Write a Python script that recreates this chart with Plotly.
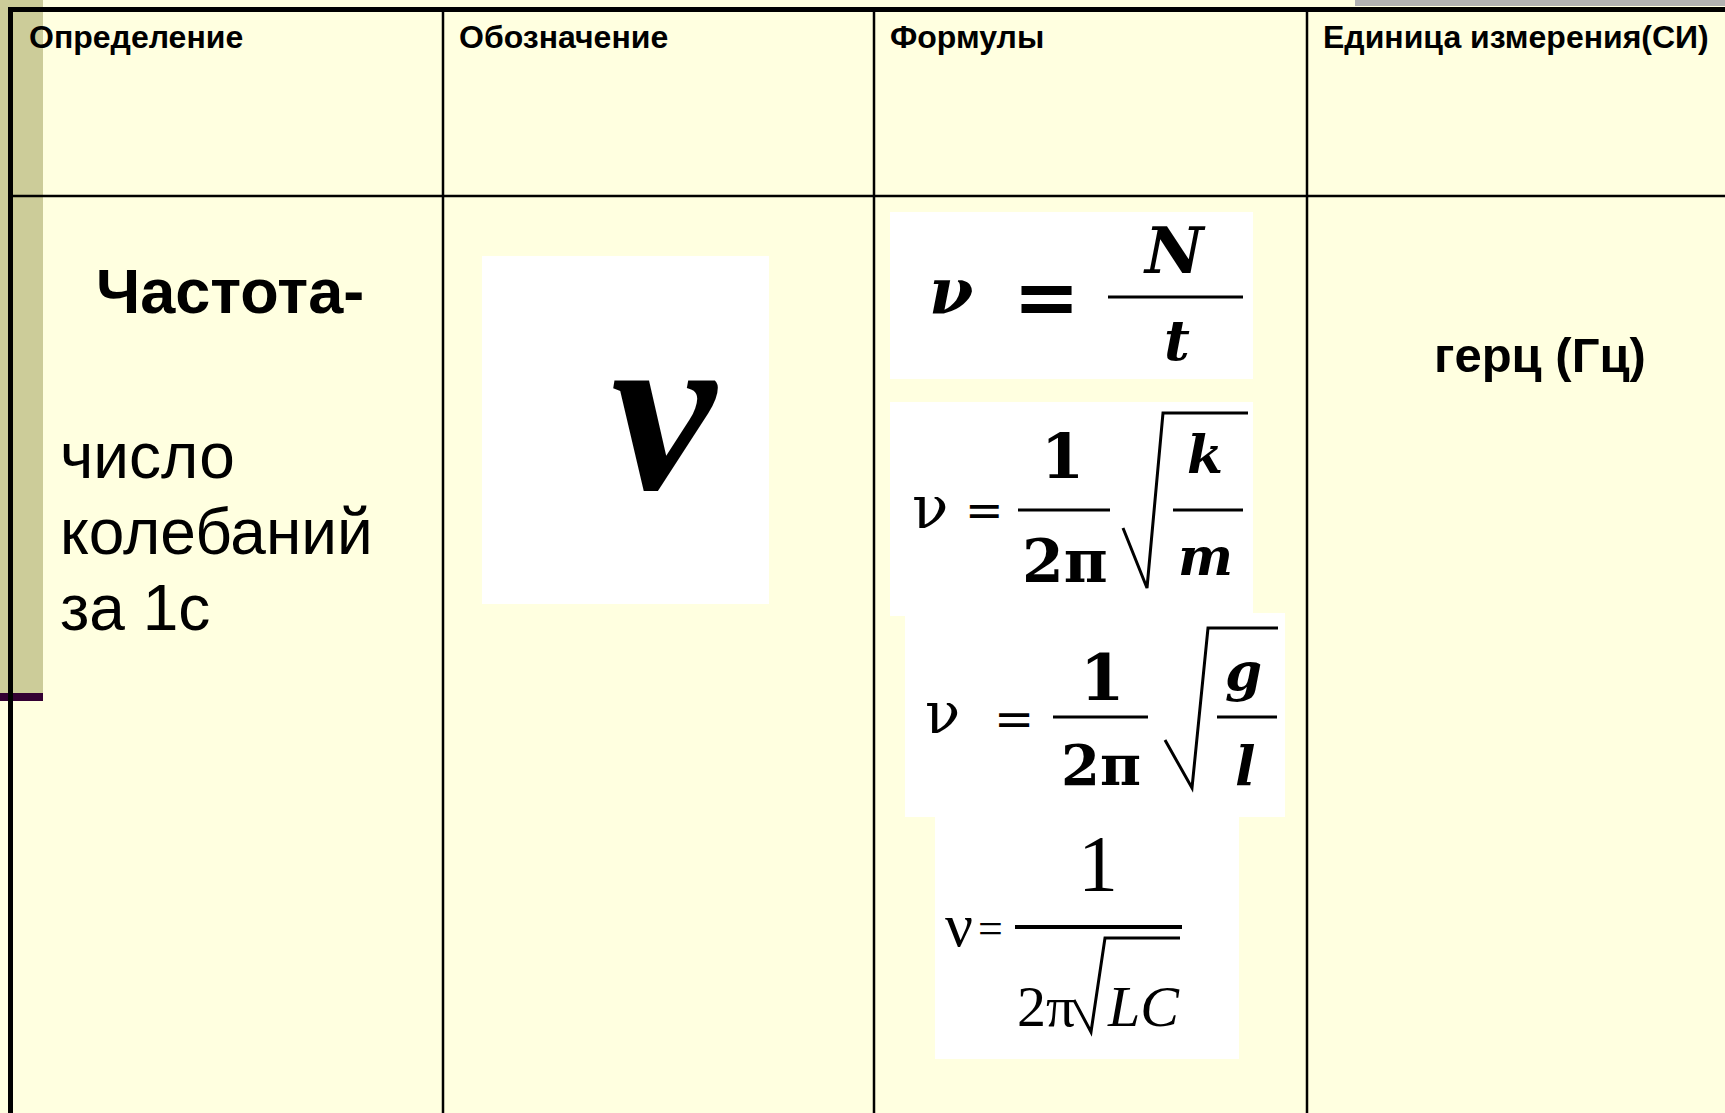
import plotly.graph_objects as go

W, H = 1725, 1113

# table contents
headers = ["Определение", "Обозначение", "Формулы", "Единица измерения(СИ)"]
term = "Частота-"
definition = ["число", "колебаний", "за 1с"]
symbol = "ν"
unit = "герц (Гц)"

# formula pieces: lhs, sign, numerator, denominator, radicand top / bottom
formula_nt = ["ν", "=", "N", "t"]
formula_spring = ["ν", "=", "1", "2π", "k", "m"]
formula_pendulum = ["ν", "=", "1", "2π", "g", "l"]
formula_lc = ["ν", "=", "1", "2π", "LC"]

BG = "#FFFFE0"
KHAKI = "#CCCC99"
SANS = "Liberation Sans, Arial, sans-serif"
SERIF = "DejaVu Serif, serif"
TIMES = "Liberation Serif, serif"

fig = go.Figure()


def rect(x0, y0, x1, y1, color):
    fig.add_shape(type="rect", x0=x0, y0=y0, x1=x1, y1=y1,
                  fillcolor=color, line_width=0)


def hline(x0, x1, y, w=3):
    fig.add_shape(type="line", x0=x0, x1=x1, y0=y, y1=y,
                  line=dict(color="black", width=w))


def put(text, x, base, size, family, weight="normal", style="normal",
        anchor="center", asc=0.35):
    # place text by its baseline
    fig.add_annotation(x=x, y=base - asc * size, text=text, showarrow=False,
                       xanchor=anchor, yanchor="middle", borderpad=0,
                       font=dict(family=family, size=size, color="black",
                                 weight=weight, style=style))


def radical(pts, w=3):
    path = "M " + " L ".join(f"{x},{y}" for x, y in pts)
    fig.add_shape(type="path", path=path, line=dict(color="black", width=w))


# slide decorations
rect(0, 0, 43, 693, KHAKI)
rect(0, 693, 43, 701, "#330033")
rect(1355, 0, W, 6, "#B2B2B2")

# white picture boxes
rect(482, 256, 769, 604, "white")
rect(890, 212, 1253, 379, "white")
rect(890, 402, 1253, 616, "white")
rect(905, 613, 1285, 817, "white")
rect(935, 816, 1239, 1059, "white")

# table grid
col_x = [13, 443, 874, 1307]
for x in col_x[1:]:
    fig.add_shape(type="line", x0=x, x1=x, y0=10, y1=H,
                  line=dict(color="black", width=2.5))
hline(13, W, 196, 2.5)
rect(8, 7, W, 12, "black")
rect(8, 7, 13, H, "black")

# header row
for x, h in zip(col_x, headers):
    put(h, x + 15, 48, 32, SANS, weight="bold", anchor="left")

# definition column
put(term, 95, 313, 63, SANS, weight="bold", anchor="left")
for base, line in zip([478, 554, 630], definition):
    put(line, 59, base, 64, SANS, anchor="left")

# symbol column
put(symbol, 664, 492, 236, TIMES, weight="bold", style="italic")

# unit column
put(unit, 1540, 372, 49, SANS, weight="bold")

# formula 1: nu = N / t
lhs, eq, num, den = formula_nt
put(lhs, 951, 313, 64, SERIF, weight="bold", style="italic")
put(eq, 1046, 296.5 + 0.35 * 80, 80, SERIF, weight="bold")
hline(1108, 1243, 297, 3)
put(num, 1174, 273, 64, SERIF, weight="bold", style="italic")
put(den, 1177, 360, 56, SERIF, weight="bold", style="italic")

# formula 2: spring
lhs, eq, num, den, top, bot = formula_spring
put(lhs, 930, 528, 60, SERIF)
put(eq, 984, 509.5 + 0.35 * 46, 46, SERIF)
hline(1018, 1110, 510, 3)
put(num, 1062, 478, 62, SERIF, weight="bold")
put(den, 1065, 582, 60, SERIF, weight="bold")
radical([(1123, 528), (1147, 588), (1163, 413), (1248, 413)])
hline(1173, 1243, 510, 3)
put(top, 1205, 473, 52, SERIF, weight="bold", style="italic")
put(bot, 1205, 575, 52, SERIF, weight="bold", style="italic")

# formula 3: pendulum
lhs, eq, num, den, top, bot = formula_pendulum
put(lhs, 942, 733, 58, SERIF)
put(eq, 1014, 718.5 + 0.35 * 48, 48, SERIF)
hline(1053, 1148, 717, 3)
put(num, 1102, 700, 64, SERIF, weight="bold")
put(den, 1101, 785, 56, SERIF, weight="bold")
radical([(1165, 740), (1192, 788), (1208, 628), (1278, 628)])
hline(1217, 1277, 717, 3)
put(top, 1243, 690, 53, SERIF, weight="bold", style="italic")
put(bot, 1245, 785, 54, SERIF, weight="bold", style="italic")

# formula 4: LC circuit
lhs, eq, num, den, rad = formula_lc
put(lhs, 959, 947, 62, TIMES)
put(eq, 990, 928.5 + 0.35 * 44, 44, TIMES)
hline(1015, 1182, 927, 4)
put(num, 1098, 892, 80, TIMES)
put(den, 1016, 1027, 58, TIMES, anchor="left")
radical([(1074, 1000), (1091, 1032), (1105, 938), (1180, 938)])
put(rad, 1106, 1027, 58, TIMES, style="italic", anchor="left")

fig.update_layout(
    width=W, height=H,
    margin=dict(l=0, r=0, t=0, b=0),
    paper_bgcolor=BG, plot_bgcolor=BG,
    showlegend=False,
    xaxis=dict(range=[0, W], visible=False, fixedrange=True),
    yaxis=dict(range=[H, 0], visible=False, fixedrange=True),
)

fig.write_html("out.html", config={"displayModeBar": False},
               post_script="document.body.style.margin='0px';")
